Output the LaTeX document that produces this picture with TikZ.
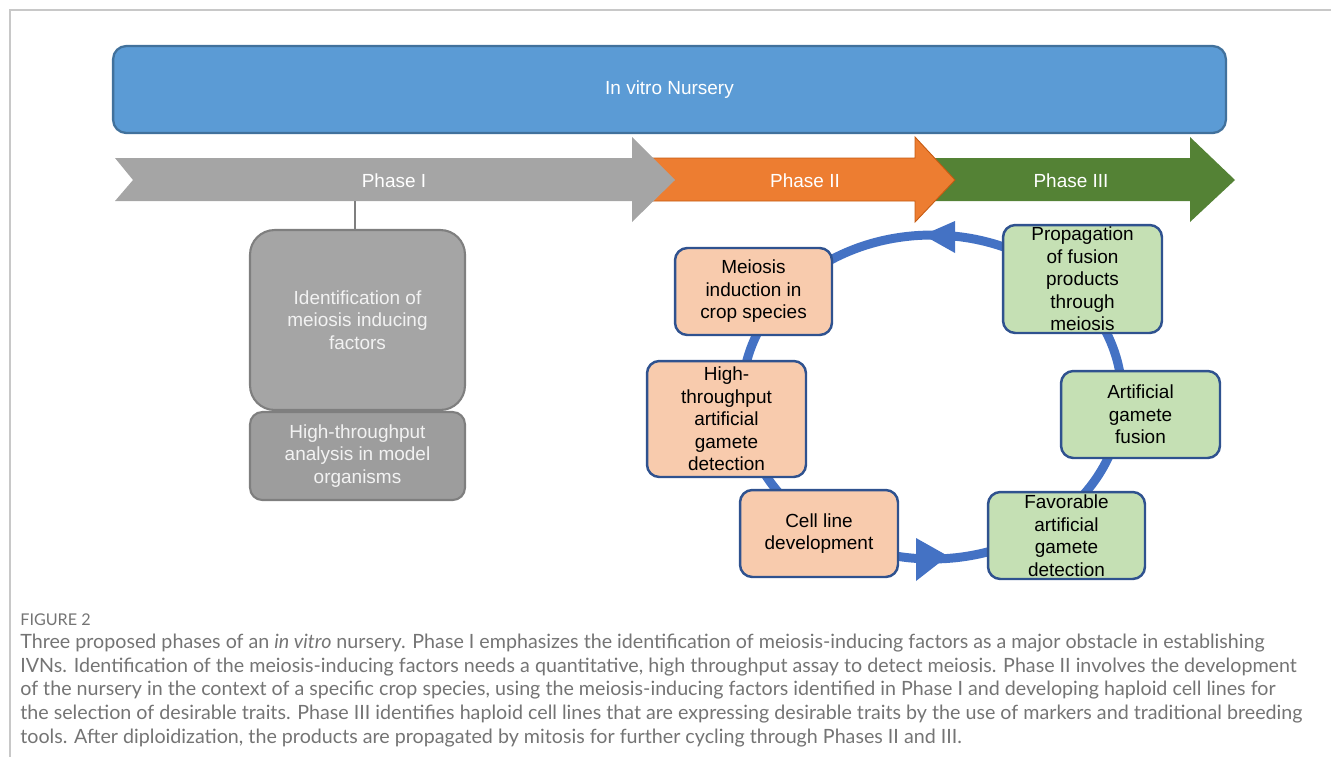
\documentclass[tikz,border=0pt]{standalone}
\usepackage{fontspec}
\setmainfont{Liberation Sans}
\newfontfamily\capfont{Lato}
\definecolor{nurseryfill}{HTML}{5B9BD5}
\definecolor{nurseryline}{HTML}{41719C}
\definecolor{phasegrey}{HTML}{A5A5A5}
\definecolor{phaseorange}{HTML}{ED7D31}
\definecolor{phaseorangeline}{HTML}{C55A11}
\definecolor{phasegreen}{HTML}{548235}
\definecolor{greyline}{HTML}{7F7F7F}
\definecolor{peach}{HTML}{F8CBAD}
\definecolor{mint}{HTML}{C5E0B4}
\definecolor{boxline}{HTML}{2F528F}
\definecolor{cyclecol}{HTML}{4472C4}
\definecolor{captext}{HTML}{747474}
\definecolor{framecol}{HTML}{C8C8C8}
\tikzset{
  boxtext/.style={align=center, inner sep=0pt, font=\fontsize{10.8}{12.8}\selectfont},
  cyclebox/.style={boxtext, draw=boxline, line width=1.4pt, rounded corners=7pt, text=black, minimum height=1.74cm},
  orangebox/.style={cyclebox, fill=peach},
  greenbox/.style={cyclebox, fill=mint},
  greybox/.style={boxtext, draw=greyline, line width=1.2pt, fill=phasegrey, text=white!95!black, minimum width=4.3cm},
  phasetext/.style={boxtext, text=white}
}
\begin{document}
\begin{tikzpicture}[x=0.02cm, y=-0.02cm]
\useasboundingbox (0,0) rectangle (1331,772);
\draw[framecol, line width=0.6pt] (1331,10) -- (10,10) -- (10,757);
\node[boxtext, draw=nurseryline, line width=1.3pt, fill=nurseryfill, text=white, rounded corners=7.5pt, minimum width=22.26cm, minimum height=1.74cm] (nursery) at (669.5,89.5) {In vitro Nursery};
\fill[phasegreen] (930,158) -- (1190,158) -- (1190,137) -- (1235,180) -- (1190,222) -- (1190,201) -- (930,201) -- cycle;
\filldraw[fill=phaseorange, draw=phaseorangeline, line width=0.5pt] (640,158) -- (915,158) -- (915,137) -- (955,180) -- (915,222) -- (915,201) -- (640,201) -- cycle;
\fill[phasegrey] (115,158) -- (632,158) -- (632,137) -- (675,180) -- (632,222) -- (632,201) -- (115,201) -- (133,180) -- cycle;
\node[phasetext] (phaseone) at (394,181) {Phase I};
\node[phasetext] (phasetwo) at (805,181) {Phase II};
\node[phasetext] (phasethree) at (1071,181) {Phase III};
\node[greybox, rounded corners=14pt, minimum height=3.6cm] (idbox) at (357.5,320) {Identification of\\meiosis inducing\\factors};
\node[greybox, fill=phasegrey!95!black, rounded corners=7pt, minimum height=1.76cm] (htbox) at (357.5,456) {High-throughput\\analysis in model\\organisms};
\coordinate (p1foot) at (355,201);
\draw[greyline, line width=1.2pt] (p1foot) -- (p1foot |- idbox.north);
\draw[cyclecol, line width=5.1pt] (932,397) ellipse [x radius=3.8cm, y radius=3.24cm];
\fill[cyclecol] (923,235) -- (955,221) -- (955,253) -- cycle;
\fill[cyclecol] (916,538) -- (916,581) -- (948,556) -- cycle;
\node[orangebox, minimum width=3.14cm] (meiosis) at (753.5,291.5) {Meiosis\\induction in\\crop species};
\node[orangebox, minimum width=3.18cm, minimum height=2.32cm] (detect) at (726.5,419) {High-\\throughput\\artificial\\gamete\\detection};
\node[orangebox, minimum width=3.16cm] (cellline) at (819,533.5) {Cell line\\development};
\node[greenbox, minimum width=3.18cm, minimum height=2.16cm] (propagate) at (1082.5,279) {Propagation\\of fusion\\products\\through\\meiosis};
\node[greenbox, minimum width=3.18cm] (fusion) at (1140.5,414.5) {Artificial\\gamete\\fusion};
\node[greenbox, minimum width=3.14cm] (favorable) at (1066.5,535.5) {Favorable\\artificial\\gamete\\detection};
\node[anchor=west, inner sep=0pt, text=captext, font=\capfont\fontsize{9.2}{11}\selectfont] (figlabel) at (20,620) {FIGURE 2};
\node[anchor=north west, inner sep=0pt, align=left, text=captext, font=\capfont\fontsize{11.2}{13.4}\selectfont] (caption) at (20,634) {Three proposed phases of an \textit{in vitro} nursery. Phase I emphasizes the identification of meiosis-inducing factors as a major obstacle in establishing\\IVNs. Identification of the meiosis-inducing factors needs a quantitative, high throughput assay to detect meiosis. Phase II involves the development\\of the nursery in the context of a specific crop species, using the meiosis-inducing factors identified in Phase I and developing haploid cell lines for\\the selection of desirable traits. Phase III identifies haploid cell lines that are expressing desirable traits by the use of markers and traditional breeding\\tools. After diploidization, the products are propagated by mitosis for further cycling through Phases II and III.};
\end{tikzpicture}
\end{document}
